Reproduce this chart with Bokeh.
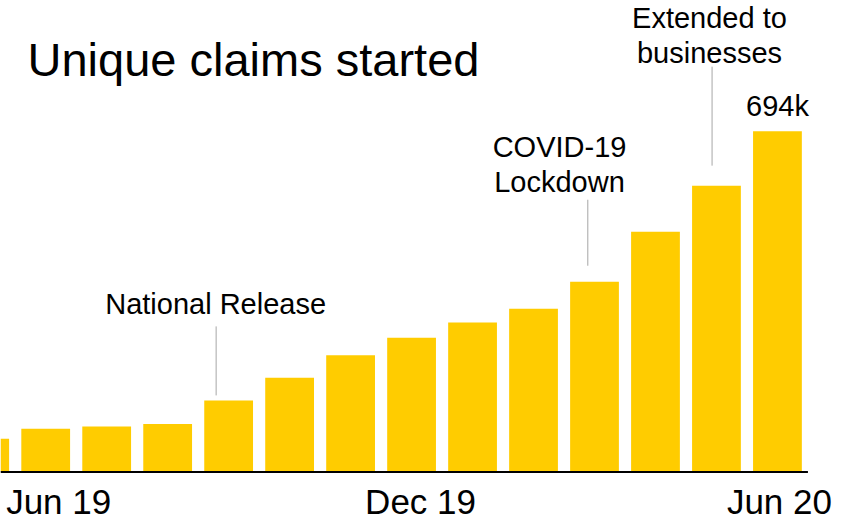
from bokeh.plotting import figure
from bokeh.models import Range1d, Label, ColumnDataSource
from bokeh.core.properties import value
from bokeh.embed import file_html
from bokeh.resources import INLINE

# ---- data ----
months = ["May 19", "Jun 19", "Jul 19", "Aug 19", "Sep 19", "Oct 19", "Nov 19",
          "Dec 19", "Jan 20", "Feb 20", "Mar 20", "Apr 20", "May 20", "Jun 20"]
claims_k = [67, 87, 92, 97, 145, 191, 237, 273, 304, 332, 387, 489, 583, 694]
tick_months = ["Jun 19", "Dec 19", "Jun 20"]
annotation_months = ["Sep 19", "Mar 20", "May 20"]
annotation_texts = [["National Release"], ["COVID-19", "Lockdown"], ["Extended to", "businesses"]]
title_text = "Unique claims started"

# ---- layout / style ----
W, H = 845, 520
X0, X1 = 0.2588, 14.116
Y0, Y1 = -99.93, 960.6
PXX = (X1 - X0) / W   # data units per px (x)
PXY = (Y1 - Y0) / H   # data units per px (y)
FONT = value("Liberation Sans")
BAR = "#FFCC00"
GREY = "#A6A6A6"
BL = 0.345  # baseline correction (fraction of font size)

idx = {m: i for i, m in enumerate(months)}

p = figure(width=W, height=H, output_backend="svg", toolbar_location=None,
           x_range=Range1d(X0, X1), y_range=Range1d(Y0, Y1),
           min_border=0, min_border_left=0, min_border_right=0,
           min_border_top=0, min_border_bottom=0)
p.axis.visible = False
p.grid.visible = False
p.outline_line_color = None
p.background_fill_color = "white"
p.border_fill_color = "white"

src = ColumnDataSource(dict(x=list(range(len(months))), top=claims_k))
p.vbar(x="x", top="top", width=0.8, bottom=0, source=src, fill_color=BAR, line_color=None)

# baseline axis line
p.segment(x0=[X0], y0=[-0.5 * PXY], x1=[len(months) - 0.5], y1=[-0.5 * PXY],
          line_color="black", line_width=2)

# x tick labels
tick_x = [idx[m] for m in tick_months]
p.text(x=tick_x, y=[0] * len(tick_x), text=tick_months,
       x_offset=[13, 9, 2], y_offset=42 - BL * 35,
       text_font=FONT, text_font_size=value("35px"), text_color="black",
       text_align="center", text_baseline="alphabetic")

# annotations with leader lines
line_dx = [-12.5, -6.7, -4.4]
line_gap = [5, 16, 20]
line_len = [69, 66, 99]
text_dx = [-13, -35, -7]
text_gap = [12.7, 7.3, 3.4]
LH = 35
for k, m in enumerate(annotation_months):
    i = idx[m]
    top = claims_k[i]
    xl = i + line_dx[k] * PXX
    yb = top + line_gap[k] * PXY
    yt = top + (line_gap[k] + line_len[k]) * PXY
    p.segment(x0=[xl], y0=[yb], x1=[xl], y1=[yt], line_color=GREY, line_width=1)
    lines = annotation_texts[k]
    n = len(lines)
    ybase = yt + text_gap[k] * PXY
    p.text(x=[i] * n, y=[ybase] * n, text=lines,
           x_offset=text_dx[k], y_offset=[-(n - 1 - j) * LH - BL * 29 for j in range(n)],
           text_font=FONT, text_font_size=value("29px"), text_color="black",
           text_align="center", text_baseline="alphabetic")

# value label on last bar
last = len(months) - 1
p.text(x=[last], y=[claims_k[last]], text=[f"{claims_k[last]}k"],
       y_offset=-15 - BL * 29, text_font=FONT, text_font_size=value("29px"),
       text_color="black", text_align="center", text_baseline="alphabetic")

# title
p.add_layout(Label(x=27, y=H - 75 + BL * 47, x_units="screen", y_units="screen",
                   text=title_text, text_font="Liberation Sans",
                   text_font_size="47px", text_color="black",
                   text_baseline="alphabetic", text_align="left"))

open("out.html", "w").write(file_html(p, INLINE))
